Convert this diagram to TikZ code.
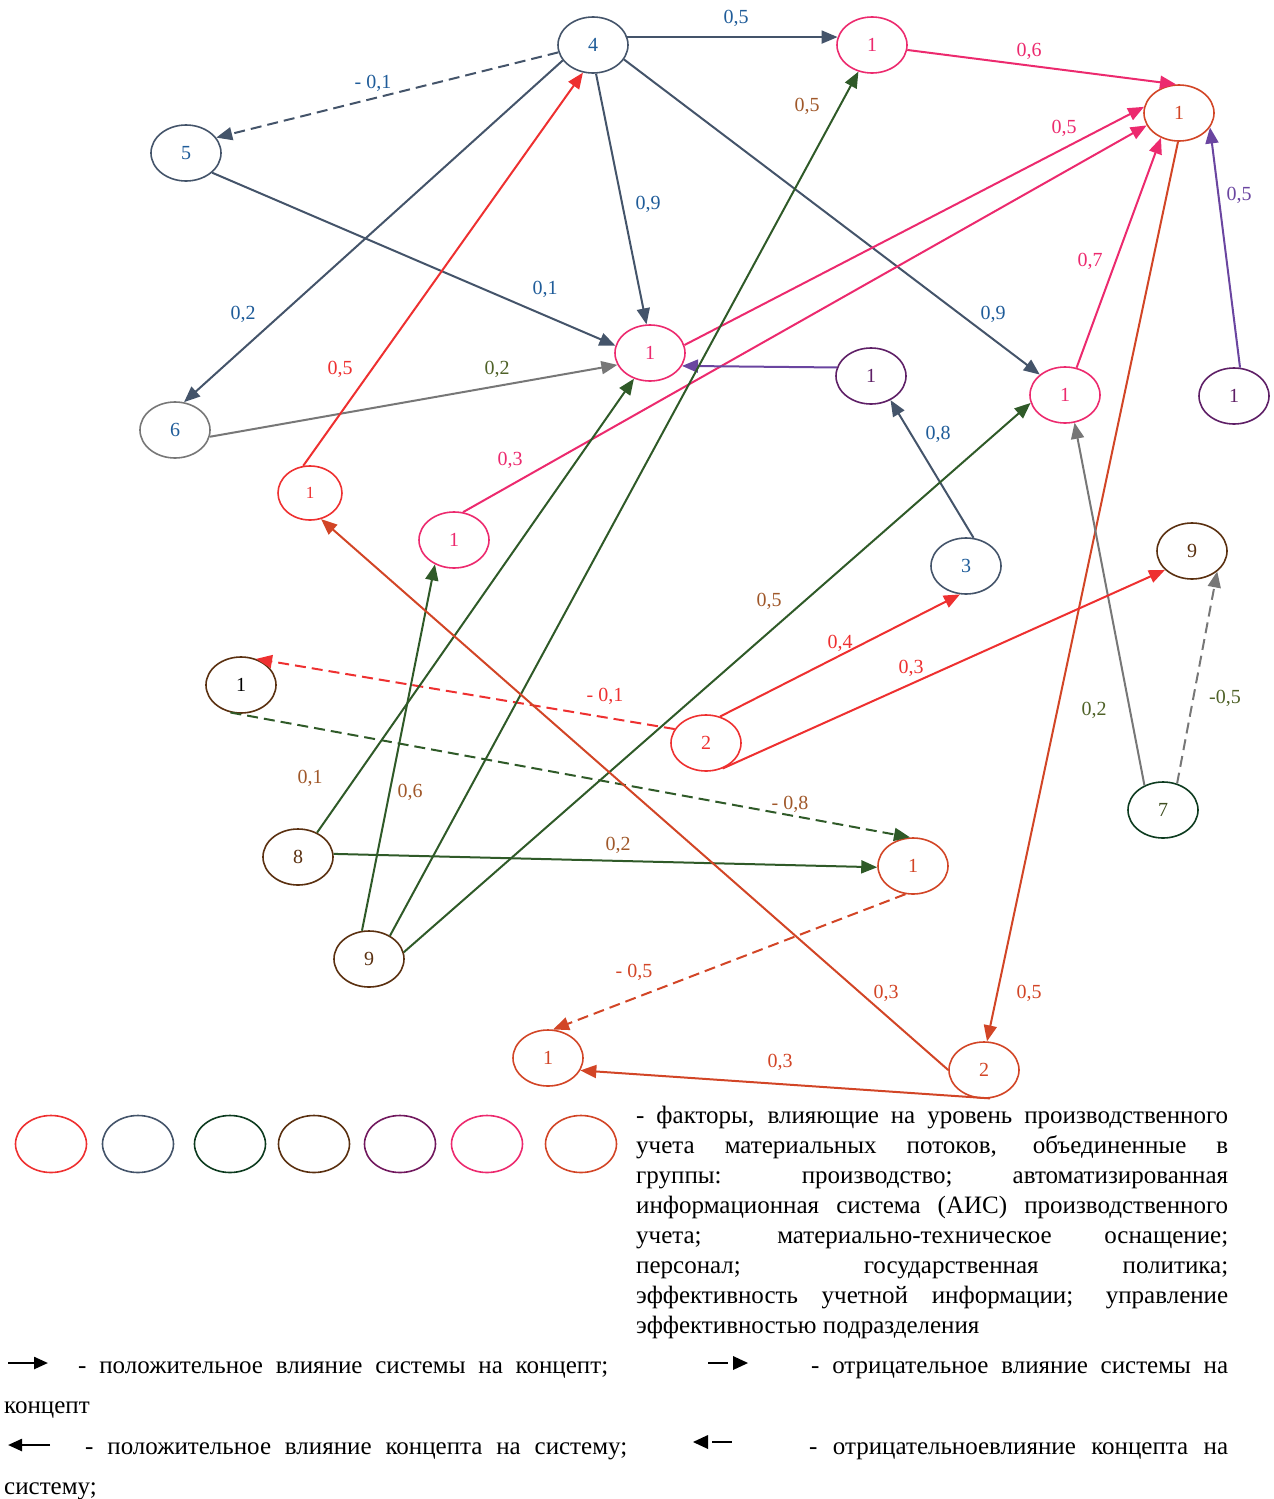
\documentclass[tikz,border=0pt]{standalone}
\usepackage{fontspec}
\setmainfont{Liberation Serif}
\usetikzlibrary{shapes.geometric,arrows.meta}
\definecolor{cBG}{HTML}{44546A}
\definecolor{cBlue}{HTML}{1F5C99}
\definecolor{cPink}{HTML}{EC2A6E}
\definecolor{cOR}{HTML}{D24526}
\definecolor{cRed}{HTML}{EE3030}
\definecolor{cPurL}{HTML}{6A45A0}
\definecolor{cPurN}{HTML}{5E1F66}
\definecolor{cDG}{HTML}{2F5A28}
\definecolor{cDGN}{HTML}{0D3B1F}
\definecolor{cBrN}{HTML}{5A3010}
\definecolor{cBrT}{HTML}{A0582A}
\definecolor{cGray}{HTML}{777777}
\definecolor{cOlive}{HTML}{4F6228}
\tikzset{
  nd/.style={ellipse, draw, line width=1.6pt, minimum width=70pt, minimum height=56pt, inner sep=0pt, font=\fontsize{20}{22}\selectfont},
  lg/.style={ellipse, draw, line width=1.6pt, minimum width=71pt, minimum height=57pt, inner sep=0pt},
  ed/.style={line width=2pt, -{Triangle[length=16pt,width=13pt]}},
  dsh/.style={dash pattern=on 11pt off 6pt},
  lb/.style={font=\fontsize{20}{22}\selectfont, inner sep=0pt},
  tx/.style={font=\fontsize{25}{30}\selectfont, inner sep=0pt, anchor=base west},
}
\begin{document}
\begin{tikzpicture}[x=1pt,y=-1pt]
\useasboundingbox (0,0) rectangle (1274,1499);
% nodes
\node[nd, draw=cBG, text=cBlue] (n4) at (593,45) {4};
\node[nd, draw=cPink, text=cPink] (n1top) at (872,45) {1};
\node[nd, draw=cOR, text=cOR] (nR1) at (1179,113) {1};
\node[nd, draw=cBG, text=cBlue] (n5) at (186,153) {5};
\node[nd, draw=cPink, text=cPink] (n1mid) at (650,353) {1};
\node[nd, draw=cPurN, text=cPurN] (n1pur) at (871,376) {1};
\node[nd, draw=cPink, text=cPink] (n1pinkR) at (1065,395) {1};
\node[nd, draw=cPurN, text=cPurN] (n1purR) at (1234,396) {1};
\node[nd, draw=cGray, text=cBlue] (n6) at (175,430) {6};
\node[nd, draw=cRed, text=cRed, minimum width=64pt, minimum height=54pt, font=\fontsize{17}{20}\selectfont] (n1red) at (310,493) {1};
\node[nd, draw=cPink, text=cPink] (n1pink2) at (454,540) {1};
\node[nd, draw=cBG, text=cBlue] (n3) at (966,566) {3};
\node[nd, draw=cBrN, text=cBrN] (n9top) at (1192,551) {9};
\node[nd, draw=cBrN, text=black] (n1brown) at (241,685) {1};
\node[nd, draw=cRed, text=cRed] (n2red) at (706,743) {2};
\node[nd, draw=cDGN, text=cOlive!80!black] (n7) at (1163,810) {7};
\node[nd, draw=cBrN, text=cBrN] (n8) at (298,857) {8};
\node[nd, draw=cOR, text=cOR] (n1or) at (913,866) {1};
\node[nd, draw=cBrN, text=cBrN] (n9) at (369,959) {9};
\node[nd, draw=cOR, text=cOR] (n1or2) at (548,1058) {1};
\node[nd, draw=cOR, text=cOR] (n2or) at (984,1070) {2};
% edges
\draw[ed, cBG] (n4.13) -- (n1top.167);
\draw[ed, cBG, dsh] (n4.192) -- (n5.27);
\draw[ed, cBG] (n4.207) -- (n6.72);
\draw[ed, cBG] (n4.276) -- (n1mid.97);
\draw[ed, cBG] (n4.335) -- (n1pinkR.141);
\draw[ed, cBG] (n5.323) -- (n1mid.168);
\draw[ed, cGray] (n6.349) -- (n1mid.200);
\draw[ed, cRed] (n1red.104) -- (n4.250);
\draw[ed, cPink] (n1top.352) -- (nR1.96);
\draw[ed, cPink] (n1mid.13) -- (nR1.170);
\draw[ed, cPink] (n1pink2.72) -- (nR1.201);
\draw[ed, cPink] (n1pinkR.67) -- (nR1.234);
\draw[ed, cPurL] (n1purR.78) -- (nR1.335);
\draw[ed, cOR] (nR1.268) -- (n2or.84);
\draw[ed, cPurL] (n1pur.166) -- (n1mid.338);
\draw[ed, cBG] (n3.75) -- (n1pur.309);
\draw[ed, cGray] (n7.127) -- (n1pinkR.289);
\draw[ed, cGray, dsh] (n7.62) -- (n9top.321);
\draw[ed, cRed] (n2red.62) -- (n3.258);
\draw[ed, cRed] (n2red.303) -- (n9top.215);
\draw[ed, cRed, dsh] (n2red.156) -- (n1brown.60);
\draw[ed, cDG, dsh] (n1brown.249) -- (n1or.96);
\draw[ed, cDG] (n8.5) -- (n1or.182);
\draw[ed, cDG] (n8.52) -- (n1mid.238);
\draw[ed, cDG] (n9.104) -- (n1pink2.232);
\draw[ed, cDG] (n9.48) -- (n1top.243);
\draw[ed, cDG] (n9.11) -- (n1pinkR.193);
\draw[ed, cOR, dsh] (n1or.255) -- (n1or2.80);
\draw[ed, cOR] (n2or.282) -- (n1or2.339);
\draw[ed, cOR] (n2or.180) -- (n1red.293);
% edge labels
\node[lb, text=cBlue] (l1) at (736,18) {0,5};
\node[lb, text=cBlue] (l2) at (373,83) {- 0,1};
\node[lb, text=cBlue] (l3) at (243,314) {0,2};
\node[lb, text=cBlue] (l4) at (648,204) {0,9};
\node[lb, text=cBlue] (l5) at (993,314) {0,9};
\node[lb, text=cBlue] (l6) at (545,289) {0,1};
\node[lb, text=cOlive] (l7) at (497,369) {0,2};
\node[lb, text=cRed] (l8) at (340,369) {0,5};
\node[lb, text=cPink] (l9) at (1029,51) {0,6};
\node[lb, text=cPink] (l10) at (1064,128) {0,5};
\node[lb, text=cPink] (l11) at (510,460) {0,3};
\node[lb, text=cPink] (l12) at (1090,261) {0,7};
\node[lb, text=cPurL] (l13) at (1239,195) {0,5};
\node[lb, text=cOR] (l14) at (1029,993) {0,5};
\node[lb, text=cBlue] (l15) at (938,434) {0,8};
\node[lb, text=cOlive] (l16) at (1094,710) {0,2};
\node[lb, text=cOlive] (l17) at (1225,698) {-0,5};
\node[lb, text=cRed] (l18) at (840,643) {0,4};
\node[lb, text=cRed] (l19) at (911,668) {0,3};
\node[lb, text=cRed] (l20) at (605,696) {- 0,1};
\node[lb, text=cBrT] (l21) at (790,804) {- 0,8};
\node[lb, text=cBrT] (l22) at (618,845) {0,2};
\node[lb, text=cBrT] (l23) at (310,778) {0,1};
\node[lb, text=cBrT] (l24) at (410,792) {0,6};
\node[lb, text=cBrT] (l25) at (807,106) {0,5};
\node[lb, text=cBrT] (l26) at (769,601) {0,5};
\node[lb, text=cOR] (l27) at (634,972) {- 0,5};
\node[lb, text=cOR] (l28) at (780,1062) {0,3};
\node[lb, text=cOR] (l29) at (886,993) {0,3};
% legend circles
\node[lg, draw=cRed] (g1) at (51,1144) {};
\node[lg, draw=cBG] (g2) at (138,1144) {};
\node[lg, draw=cDGN] (g3) at (230,1144) {};
\node[lg, draw=cBrN] (g4) at (314,1144) {};
\node[lg, draw=cPurN!80!purple] (g5) at (400,1144) {};
\node[lg, draw=cPink] (g6) at (487,1144) {};
\node[lg, draw=cOR] (g7) at (581,1144) {};
% legend text
\node[tx] (t1) at (636,1123) {\makebox[592pt][s]{- факторы, влияющие на уровень производственного}};
\node[tx] (t2) at (636,1153) {\makebox[592pt][s]{учета материальных потоков, объединенные в}};
\node[tx] (t3) at (636,1183) {\makebox[592pt][s]{группы: производство; автоматизированная}};
\node[tx] (t4) at (636,1213) {\makebox[592pt][s]{информационная система (АИС) производственного}};
\node[tx] (t5) at (636,1243) {\makebox[592pt][s]{учета; материально-техническое оснащение;}};
\node[tx] (t6) at (636,1273) {\makebox[592pt][s]{персонал; государственная политика;}};
\node[tx] (t7) at (636,1303) {\makebox[592pt][s]{эффективность учетной информации; управление}};
\node[tx] (t8) at (636,1333) {эффективностью подразделения};
\node[tx] (b1) at (78,1373) {\makebox[530pt][s]{- положительное влияние системы на концепт;}};
\node[tx] (b2) at (811,1373) {\makebox[417pt][s]{- отрицательное влияние системы на}};
\node[tx] (b3) at (4,1413) {концепт};
\node[tx] (b4) at (85,1454) {\makebox[542pt][s]{- положительное влияние концепта на систему;}};
\node[tx] (b5) at (809,1454) {\makebox[419pt][s]{- отрицательноевлияние концепта на}};
\node[tx] (b6) at (4,1494) {систему;};
% legend arrows
\coordinate (a1s) at (8,1363); \coordinate (a1e) at (48,1363);
\draw[line width=2.4pt, -{Triangle[length=14pt,width=12pt]}] (a1s) -- (a1e);
\coordinate (a2s) at (708,1363); \coordinate (a2e) at (728,1363);
\draw[line width=2.4pt] (a2s) -- (a2e);
\fill (733,1356) -- (748,1363) -- (733,1370) -- cycle;
\coordinate (a3s) at (50,1445); \coordinate (a3e) at (8,1445);
\draw[line width=2.4pt, -{Triangle[length=14pt,width=12pt]}] (a3s) -- (a3e);
\coordinate (a4s) at (712,1442); \coordinate (a4e) at (732,1442);
\draw[line width=2.4pt] (a4s) -- (a4e);
\fill (708,1435) -- (693,1442) -- (708,1449) -- cycle;
\end{tikzpicture}
\end{document}
